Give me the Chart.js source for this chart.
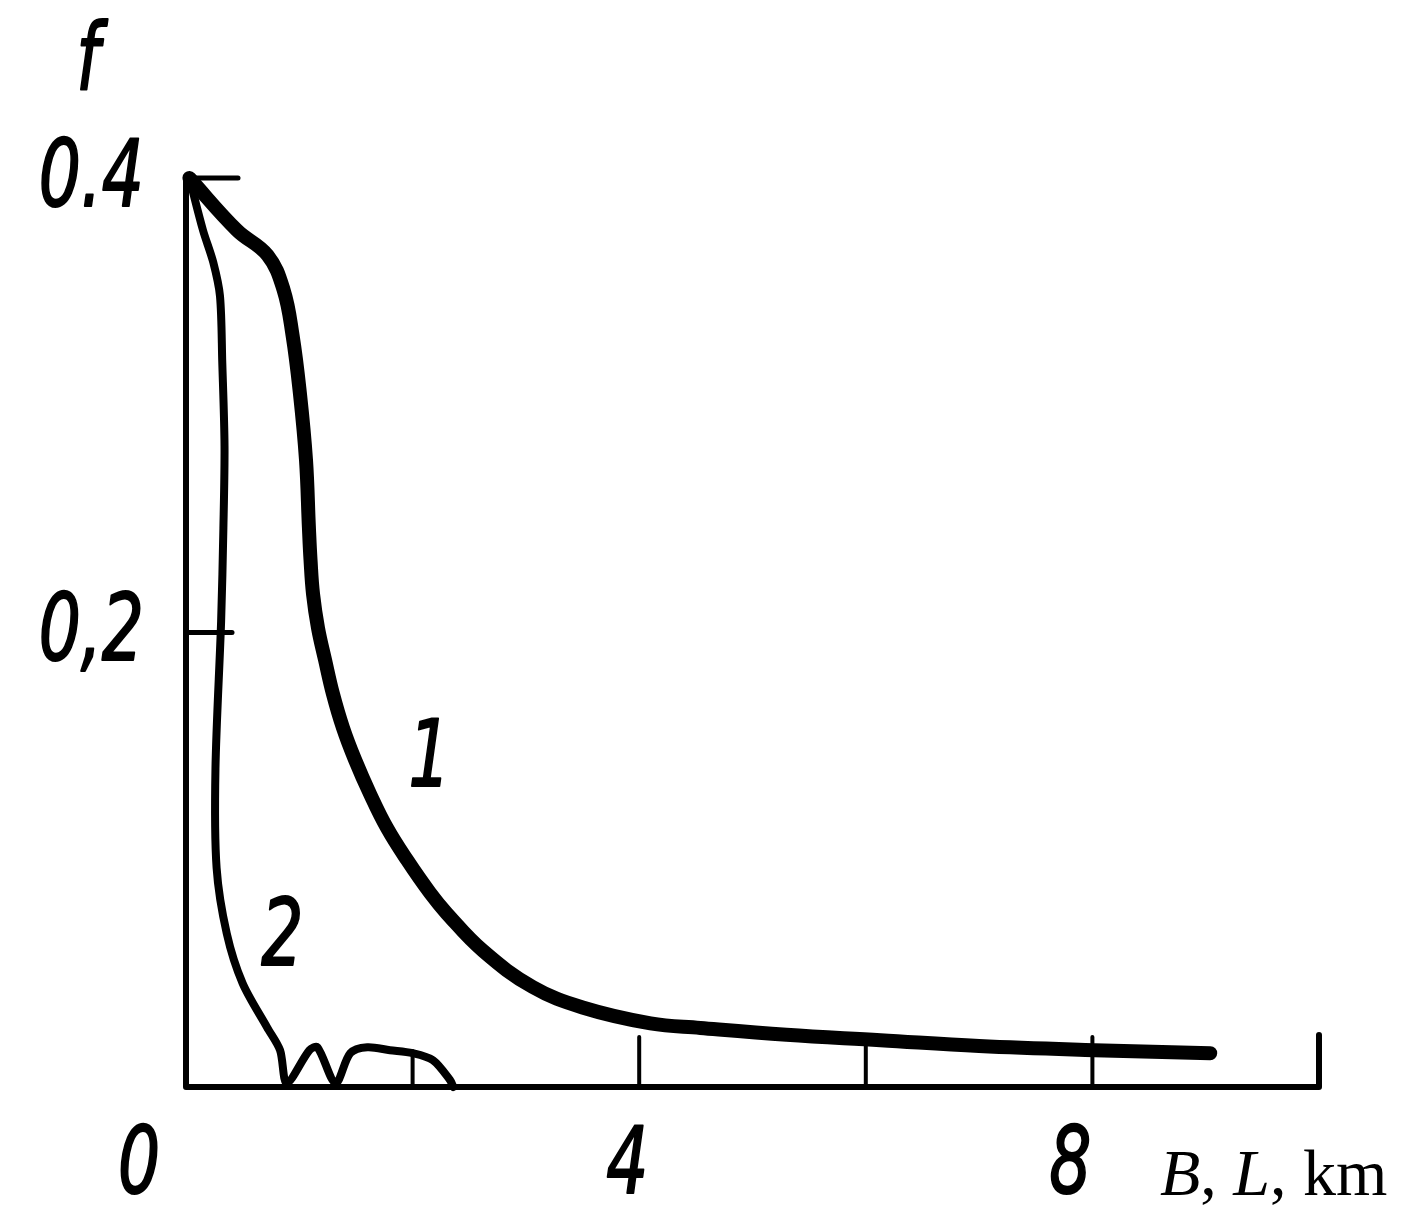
<!DOCTYPE html>
<html>
<head>
<meta charset="utf-8">
<script src="https://cdn.jsdelivr.net/npm/chart.js@4/dist/chart.umd.min.js"></script>
<style>
  html, body { margin: 0; padding: 0; background: #ffffff; }
  #wrap { width: 1409px; height: 1229px; }
</style>
</head>
<body>
<div id="wrap"><canvas id="c" width="1409" height="1229"></canvas></div>
<script>
// ---- data ----
const xTickValues = [0, 2, 4, 6, 8, 10];
const xTickLabels = ['0', '', '4', '', '8', ''];
const yTickValues = [0.2, 0.4];
const yTickLabels = ['0,2', '0.4'];
const xTitle = ['B', ', ', 'L', ', km'];
const yTitle = 'f';
const seriesNames = ['1', '2'];

const curve1X = [0.03, 0.45, 0.72, 0.86, 0.94, 1.006, 1.059, 1.085, 1.099, 1.121, 1.165, 1.227, 1.297, 1.386, 1.492, 1.624, 1.774, 1.951, 2.154, 2.30, 2.62, 3.06, 3.50, 4.10, 4.54, 5.30, 6.13, 7.00, 8.02, 9.04];
const curve1Y = [0.400, 0.377, 0.366, 0.351, 0.331, 0.305, 0.276, 0.246, 0.232, 0.217, 0.202, 0.188, 0.173, 0.158, 0.144, 0.129, 0.114, 0.0999, 0.0854, 0.0765, 0.060, 0.044, 0.035, 0.028, 0.026, 0.023, 0.0206, 0.018, 0.0162, 0.0149];

const curve2X = [0.035, 0.15, 0.24, 0.30, 0.32, 0.34, 0.33, 0.31, 0.26, 0.27, 0.36, 0.50, 0.715, 0.83, 0.89, 1.09, 1.16, 1.32, 1.45, 1.60, 1.80, 2.00, 2.18, 2.33, 2.36];
const curve2Y = [0.399, 0.377, 0.363, 0.348, 0.319, 0.282, 0.246, 0.205, 0.140, 0.0965, 0.0675, 0.0456, 0.0263, 0.0162, 0.0018, 0.0162, 0.0175, 0.0018, 0.0149, 0.0175, 0.0162, 0.0149, 0.0118, 0.0031, 0.0];

const curveLabelPos = [[2.15, 0.143], [0.85, 0.064]];

// layout-only: horizontal nudges (px) of the hand-lettered x tick labels
const xLabelShift = [-47, 0, -12, 0, -22, 0];

const toPoints = (xs, ys) => xs.map((x, i) => ({ x: x, y: ys[i] }));

const DIGIT_FONT = "italic 92px 'DejaVu Sans', 'Liberation Sans', sans-serif";
const DIGIT_SX = 0.72;

function drawSquished(ctx, text, x, y, align, baseline) {
  ctx.save();
  ctx.translate(x, y);
  ctx.scale(DIGIT_SX, 1);
  ctx.font = DIGIT_FONT;
  ctx.fillStyle = '#000';
  ctx.strokeStyle = '#000';
  ctx.lineWidth = 2;
  ctx.lineJoin = 'round';
  ctx.textAlign = align;
  ctx.textBaseline = baseline;
  ctx.fillText(text, 0, 0);
  ctx.strokeText(text, 0, 0);
  ctx.restore();
}

const axesPlugin = {
  id: 'handAxes',
  beforeDatasetsDraw(chart) {
    const ctx = chart.ctx;
    const xs = chart.scales.x, ys = chart.scales.y;
    const x0 = xs.getPixelForValue(0), x1 = xs.getPixelForValue(10);
    const y0 = ys.getPixelForValue(0), y1 = ys.getPixelForValue(0.4);
    ctx.save();
    ctx.strokeStyle = '#000';
    ctx.lineCap = 'round';
    ctx.lineJoin = 'round';
    ctx.lineWidth = 6;
    ctx.beginPath();
    ctx.moveTo(x0, y1);
    ctx.lineTo(x0, y0);
    ctx.lineTo(x1, y0);
    ctx.lineTo(x1, y0 - 52);
    ctx.stroke();
    ctx.lineWidth = 5;
    yTickValues.forEach(v => {
      const p = ys.getPixelForValue(v);
      ctx.beginPath();
      ctx.moveTo(x0, p);
      ctx.lineTo(x0 + (v === 0.4 ? 52 : 46), p);
      ctx.stroke();
    });
    ctx.lineWidth = 4;
    xTickValues.forEach(v => {
      if (v === 0 || v === 10) return;
      const p = xs.getPixelForValue(v);
      ctx.beginPath();
      ctx.moveTo(p, y0);
      ctx.lineTo(p, y0 - (v === 2 ? 36 : 50));
      ctx.stroke();
    });
    ctx.restore();
  },
  afterDraw(chart) {
    const ctx = chart.ctx;
    const xs = chart.scales.x, ys = chart.scales.y;
    const y0 = ys.getPixelForValue(0);
    const x0 = xs.getPixelForValue(0);
    yTickValues.forEach((v, i) => {
      drawSquished(ctx, yTickLabels[i], x0 - 42, ys.getPixelForValue(v) + 4, 'right', 'middle');
    });
    xTickValues.forEach((v, i) => {
      if (!xTickLabels[i]) return;
      drawSquished(ctx, xTickLabels[i], xs.getPixelForValue(v) + xLabelShift[i], y0 + 36, 'center', 'top');
    });
    drawSquished(ctx, yTitle, x0 - 98, ys.getPixelForValue(0.4) - 112, 'center', 'middle');
    seriesNames.forEach((n, i) => {
      drawSquished(ctx, n, xs.getPixelForValue(curveLabelPos[i][0]), ys.getPixelForValue(curveLabelPos[i][1]), 'center', 'middle');
    });
    ctx.save();
    ctx.fillStyle = '#000';
    ctx.textBaseline = 'alphabetic';
    ctx.textAlign = 'left';
    let tx = 1160;
    const ty = 1195;
    xTitle.forEach((part, i) => {
      ctx.font = (i % 2 === 0 ? 'italic ' : '') + "66px 'Liberation Serif', 'Times New Roman', serif";
      ctx.fillText(part, tx, ty);
      tx += ctx.measureText(part).width;
    });
    ctx.restore();
  }
};

new Chart(document.getElementById('c'), {
  type: 'scatter',
  data: {
    datasets: [
      {
        label: seriesNames[0],
        data: toPoints(curve1X, curve1Y),
        showLine: true,
        borderColor: '#000',
        borderWidth: 14,
        pointRadius: 0,
        tension: 0.4,
        borderCapStyle: 'round',
        borderJoinStyle: 'round',
        clip: false
      },
      {
        label: seriesNames[1],
        data: toPoints(curve2X, curve2Y),
        showLine: true,
        borderColor: '#000',
        borderWidth: 8,
        pointRadius: 0,
        tension: 0.3,
        borderCapStyle: 'round',
        borderJoinStyle: 'round',
        clip: false
      }
    ]
  },
  options: {
    responsive: false,
    animation: false,
    devicePixelRatio: 1,
    layout: { padding: { left: 186, right: 90, top: 178, bottom: 142 } },
    plugins: { legend: { display: false }, tooltip: { enabled: false } },
    scales: {
      x: { type: 'linear', min: 0, max: 10, display: false },
      y: { type: 'linear', min: 0, max: 0.4, display: false }
    }
  },
  plugins: [axesPlugin]
});
</script>
</body>
</html>
